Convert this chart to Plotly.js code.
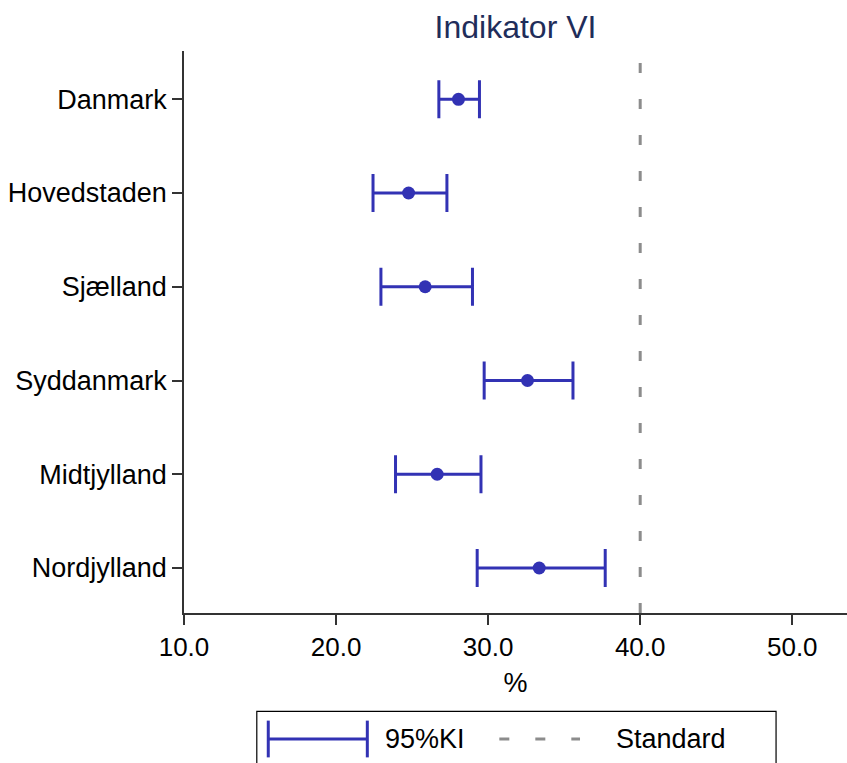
<!DOCTYPE html>
<html>
<head>
<meta charset="utf-8">
<script src="https://cdn.plot.ly/plotly-3.0.1.min.js"></script>
<style>
  html, body { margin: 0; padding: 0; background: #ffffff; }
  #chart { width: 847px; height: 763px; }
</style>
</head>
<body>
<div id="chart"></div>
<script>
// ---- Data ----
const regions = ["Danmark", "Hovedstaden", "Sjælland", "Syddanmark", "Midtjylland", "Nordjylland"];
const estimate = [28.05, 24.77, 25.86, 32.59, 26.65, 33.36];
const lowerCI  = [26.76, 22.43, 22.95, 29.74, 23.91, 29.28];
const upperCI  = [29.43, 27.29, 28.97, 35.58, 29.53, 37.70];
const standardValue = 40;
const xTickVals = [10, 20, 30, 40, 50];
const xTickText = ["10.0", "20.0", "30.0", "40.0", "50.0"];
const titleText = "Indikator VI";
const xTitleText = "%";
const legendCI = "95%KI";
const legendStandard = "Standard";

// ---- Styles ----
const blue = "#3232b4";
const grey = "#8c8c8c";
const axisCol = "#333333";
const font = "Liberation Sans, Arial, Helvetica, sans-serif";

const errPlus = upperCI.map((u, i) => u - estimate[i]);
const errMinus = lowerCI.map((l, i) => estimate[i] - l);

const ciTrace = {
  type: "scatter",
  mode: "markers",
  x: estimate,
  y: regions,
  name: legendCI,
  showlegend: false,
  marker: { color: blue, size: 13 },
  error_x: {
    type: "data",
    symmetric: false,
    array: errPlus,
    arrayminus: errMinus,
    color: blue,
    thickness: 3,
    width: 19
  },
  hoverinfo: "x+y"
};

// legend geometry (paper coords)
const legY = -0.2242;
const layout = {
  width: 847,
  height: 763,
  margin: { l: 184, r: 0, t: 51, b: 150 },
  paper_bgcolor: "#ffffff",
  plot_bgcolor: "#ffffff",
  font: { family: font, size: 27, color: "#000000" },
  showlegend: false,
  title: {
    text: titleText,
    font: { family: font, size: 32, color: "#1f2d5a" },
    x: 0.5, xref: "paper", xanchor: "center",
    y: 0.965, yref: "container", yanchor: "middle"
  },
  xaxis: {
    range: [10, 53.6],
    tickmode: "array",
    tickvals: xTickVals,
    ticktext: xTickText,
    ticks: "outside",
    ticklen: 10,
    tickwidth: 1.5,
    tickcolor: axisCol,
    showline: true,
    linecolor: axisCol,
    linewidth: 1.5,
    showgrid: false,
    zeroline: false,
    tickfont: { family: font, size: 26, color: "#000000" },
    title: { text: xTitleText, font: { family: font, size: 27, color: "#000000" }, standoff: 12 }
  },
  yaxis: {
    type: "category",
    categoryorder: "array",
    categoryarray: regions,
    range: [5.48, -0.515],
    ticks: "outside",
    ticklen: 10,
    tickwidth: 1.5,
    tickcolor: axisCol,
    showline: true,
    linecolor: axisCol,
    linewidth: 1.5,
    showgrid: false,
    zeroline: false,
    tickfont: { family: font, size: 27, color: "#000000" }
  },
  shapes: [
    {
      type: "line", xref: "x", yref: "paper",
      x0: standardValue, x1: standardValue, y0: 0, y1: 1,
      line: { color: grey, width: 3, dash: "10px,26px" }
    },
    // legend box
    {
      type: "rect", xref: "paper", yref: "paper",
      x0: 0.1098, x1: 0.893, y0: -0.30, y1: -0.175,
      line: { color: "#000000", width: 1.2 }, fillcolor: "rgba(0,0,0,0)"
    },
    // legend: CI symbol
    {
      type: "line", xref: "paper", yref: "paper",
      x0: 0.1271, x1: 0.2765, y0: legY, y1: legY,
      line: { color: blue, width: 3 }
    },
    {
      type: "line", xref: "paper", yref: "paper",
      x0: 0.1271, x1: 0.1271, y0: legY - 0.0327, y1: legY + 0.0327,
      line: { color: blue, width: 3 }
    },
    {
      type: "line", xref: "paper", yref: "paper",
      x0: 0.2765, x1: 0.2765, y0: legY - 0.0327, y1: legY + 0.0327,
      line: { color: blue, width: 3 }
    },
    // legend: standard symbol
    {
      type: "line", xref: "paper", yref: "paper",
      x0: 0.4756, x1: 0.5973, y0: legY, y1: legY,
      line: { color: grey, width: 3, dash: "10px,26px" }
    }
  ],
  annotations: [
    {
      xref: "paper", yref: "paper", x: 0.2998, y: legY,
      xanchor: "left", yanchor: "middle", showarrow: false,
      text: legendCI, font: { family: font, size: 27, color: "#000000" }
    },
    {
      xref: "paper", yref: "paper", x: 0.6486, y: legY,
      xanchor: "left", yanchor: "middle", showarrow: false,
      text: legendStandard, font: { family: font, size: 27, color: "#000000" }
    }
  ]
};

Plotly.newPlot("chart", [ciTrace], layout, { displayModeBar: false, responsive: false });
</script>
</body>
</html>
